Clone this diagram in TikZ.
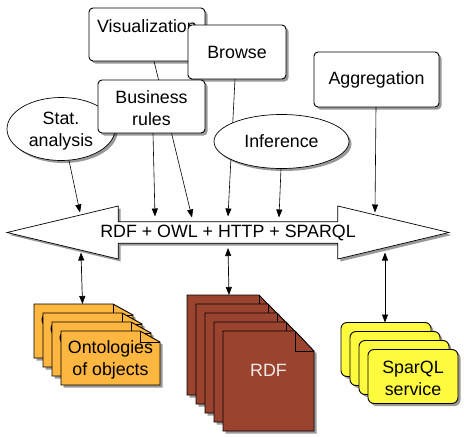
\documentclass[tikz,border=0pt]{standalone}
\usepackage{fontspec}
\setmainfont{Liberation Sans}
\usetikzlibrary{positioning, arrows.meta, shapes.geometric, shapes.arrows, calc, backgrounds, shadows}

\definecolor{ontorange}{HTML}{FDB63F}
\definecolor{rdfbrown}{HTML}{9A4430}
\definecolor{sparyellow}{HTML}{FEFB3F}

\newcommand{\lowtext}{\rule{0pt}{17pt}}
\newcommand{\backlabel}{\lowtext O\phantom{ntologies}\\\phantom{of objects}}
\pgfkeyssetvalue{/pgf/fold x}{20pt}
\pgfkeyssetvalue{/pgf/fold y}{11pt}

% Page with a cut corner
\makeatletter
\pgfdeclareshape{foldpage}{
  \inheritsavedanchors[from=rectangle]
  \inheritanchorborder[from=rectangle]
  \inheritanchor[from=rectangle]{center}
  \inheritanchor[from=rectangle]{north}
  \inheritanchor[from=rectangle]{south}
  \inheritanchor[from=rectangle]{east}
  \inheritanchor[from=rectangle]{west}
  \backgroundpath{
    \southwest \pgf@xa=\pgf@x \pgf@ya=\pgf@y
    \northeast \pgf@xb=\pgf@x \pgf@yb=\pgf@y
    \pgfpathmoveto{\pgfqpoint{\pgf@xa}{\pgf@ya}}
    \pgfpathlineto{\pgfqpoint{\pgf@xa}{\pgf@yb}}
    \pgfpathlineto{\pgfpoint{\pgf@xb-\pgfkeysvalueof{/pgf/fold x}}{\pgf@yb}}
    \pgfpathlineto{\pgfpoint{\pgf@xb}{\pgf@yb-\pgfkeysvalueof{/pgf/fold y}}}
    \pgfpathlineto{\pgfqpoint{\pgf@xb}{\pgf@ya}}
    \pgfpathclose
  }
}
\makeatother

\begin{document}
\begin{tikzpicture}[
    x=1pt, y=-1pt,
    every node/.style={font=\fontsize{17.8}{22}\selectfont, align=center, inner sep=0pt, outer sep=0pt},
    softshadow/.style={drop shadow={shadow xshift=2.5pt, shadow yshift=-2.5pt, fill=black, opacity=0.4}},
    appbox/.style={rectangle, rounded corners=4pt, draw=black, line width=0.9pt, fill=white, softshadow},
    appoval/.style={ellipse, draw=black, line width=0.7pt, fill=white, softshadow},
    webbus/.style={double arrow, draw=black, line width=0.7pt, fill=white, softshadow, minimum height=442pt, minimum width=53pt, double arrow head extend=12.25pt, double arrow tip angle=26.8},
    ontdoc/.style={foldpage, /pgf/fold x=20pt, /pgf/fold y=11pt, draw=black, line width=0.9pt, fill=ontorange, softshadow, minimum width=99pt, minimum height=54pt,
        path picture={\draw[line width=0.9pt] ($(path picture bounding box.north east)+(-20,0)$) -- ++(0,11) -- ++(20,0);}},
    rdfdoc/.style={foldpage, /pgf/fold x=19pt, /pgf/fold y=20pt, draw=black, line width=0.9pt, fill=rdfbrown, softshadow, minimum width=91pt, minimum height=100pt, text=white!90!rdfbrown,
        path picture={\draw[line width=0.9pt] ($(path picture bounding box.north east)+(-19,0)$) -- ++(0,20) -- ++(19,0);}},
    spardoc/.style={rectangle, rounded corners=6pt, draw=black, line width=0.9pt, fill=sparyellow, softshadow, minimum width=90pt, minimum height=54pt},
    link/.style={-{Triangle[length=8pt, width=6pt]}, line width=0.6pt, draw=black},
    bothlink/.style={{Triangle[length=8pt, width=6pt]}-{Triangle[length=8pt, width=6pt]}, line width=0.7pt, draw=black}
]
\useasboundingbox (0,0) rectangle (464,437);

% Applications
\node[appbox, minimum width=116pt, minimum height=53pt] (viz) at (147,34.5) {\lowtext Visualization\\~};
\node[appbox, minimum width=98pt, minimum height=54pt] (browse) at (237,52) {Browse};
\node[appoval, minimum width=108pt, minimum height=63pt] (stat) at (61,129) {\lowtext Stat.\\analysis};
\node[appbox, minimum width=107pt, minimum height=53pt] (rules) at (151.5,106.5) {\lowtext Business\\rules};
\node[appoval, minimum width=135pt, minimum height=54pt] (infer) at (281.5,141.5) {Inference};
\node[appbox, minimum width=125pt, minimum height=55pt] (aggr) at (376.5,79.5) {Aggregation};

% Bus
\node[webbus] (web) at (228,232.5) {RDF + OWL + HTTP + SPARQL};

% Ontologies
\node[ontdoc] (ont1) at (83.5,331) {\backlabel};
\node[ontdoc] (ont2) at ($(ont1)+(9,9)$) {\backlabel};
\node[ontdoc] (ont3) at ($(ont2)+(9,9)$) {\backlabel};
\node[ontdoc] (ont4) at ($(ont3)+(9,9)$) {\lowtext Ontologies\\of objects};

% RDF data
\node[rdfdoc] (rdf1) at (232.5,345) {};
\node[rdfdoc] (rdf2) at ($(rdf1)+(9,9)$) {};
\node[rdfdoc] (rdf3) at ($(rdf2)+(9,9)$) {};
\node[rdfdoc] (rdf4) at ($(rdf3)+(9,9)$) {};
\node[rdfdoc] (rdf5) at ($(rdf4)+(9,9)$) {RDF\\~};

% SparQL services
\node[spardoc] (spar1) at (386,349.5) {};
\node[spardoc] (spar2) at ($(spar1)+(9,9)$) {};
\node[spardoc] (spar3) at ($(spar2)+(9,9)$) {};
\node[spardoc] (spar4) at ($(spar3)+(9,9)$) {\lowtext SparQL\\service};

% Links
\begin{scope}[on background layer]
\draw[link] ([xshift=8pt]stat.south) -- ([shift={(-148,-20)}]web.center);
\draw[link] ([xshift=1.5pt]rules.south) -- ([shift={(-73,-16)}]web.center);
\draw[link] ([xshift=7pt]viz.south) -- ([shift={(-36,-15)}]web.center);
\draw[link] ([xshift=-2pt]browse.south) -- ([shift={(0,-16)}]web.center);
\draw[link] ([xshift=-0.5pt]infer.south) -- ([shift={(51,-15)}]web.center);
\draw[link] ([xshift=-0.5pt]aggr.south) -- ([shift={(147,-20)}]web.center);
\draw[bothlink] ([shift={(-147,20)}]web.center) -- ([xshift=-1pt]ont1.north);
\draw[bothlink] ([shift={(0,15.5)}]web.center) -- ([xshift=-3.5pt]rdf1.north);
\draw[bothlink] ([shift={(157,20)}]web.center) -- ([xshift=-1pt]spar1.north);
\end{scope}

\end{tikzpicture}
\end{document}
